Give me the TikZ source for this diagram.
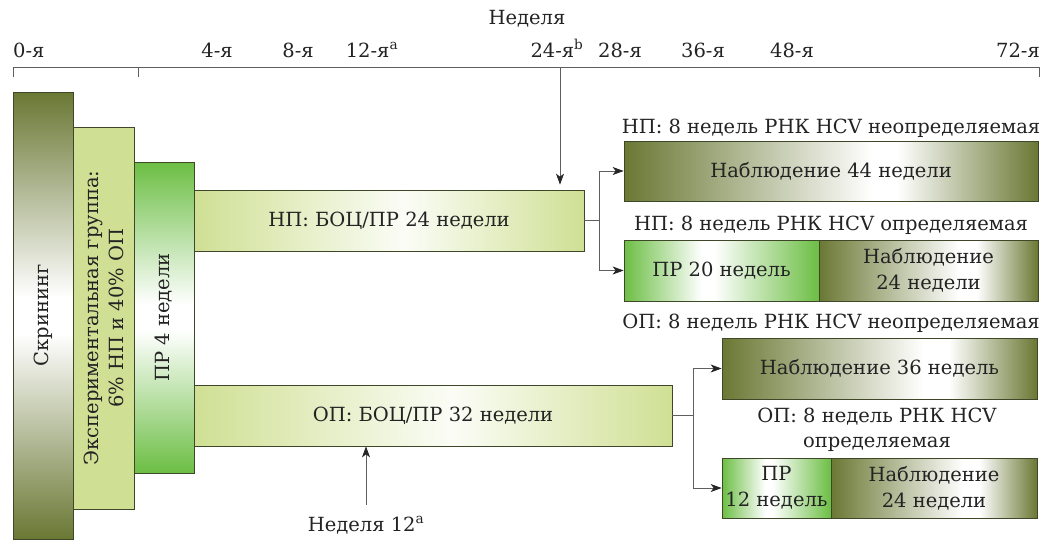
\documentclass[tikz,border=0pt]{standalone}
\usepackage{fontspec}
\setmainfont{DejaVu Serif}
\newfontfamily\dserif{DejaVu Serif}
\usetikzlibrary{arrows.meta}

\definecolor{olv}{RGB}{106,120,52}
\definecolor{grn}{RGB}{108,190,68}
\definecolor{lgr}{RGB}{207,224,148}
\definecolor{bdr}{RGB}{62,72,40}
\definecolor{cgray}{RGB}{95,95,95}
\definecolor{txt}{RGB}{35,35,35}

\pgfdeclareverticalshading{scrsh}{100bp}{color(0bp)=(olv); color(25bp)=(olv); color(48bp)=(white); color(52bp)=(white); color(75bp)=(olv); color(100bp)=(olv)}
\pgfdeclareverticalshading{prvsh}{100bp}{color(0bp)=(grn); color(25bp)=(grn); color(48bp)=(white); color(52bp)=(white); color(75bp)=(grn); color(100bp)=(grn)}
\pgfdeclarehorizontalshading{obssh}{100bp}{color(0bp)=(olv); color(25bp)=(olv); color(55bp)=(white); color(58bp)=(white); color(75bp)=(olv); color(100bp)=(olv)}
\pgfdeclarehorizontalshading{obsbsh}{100bp}{color(0bp)=(olv); color(25bp)=(olv); color(57bp)=(white); color(61bp)=(white); color(75bp)=(olv); color(100bp)=(olv)}
\pgfdeclarehorizontalshading{prhsh}{100bp}{color(0bp)=(grn); color(25bp)=(grn); color(45bp)=(white); color(48bp)=(white); color(75bp)=(grn); color(100bp)=(grn)}
\pgfdeclarehorizontalshading{lgrsh}{100bp}{color(0bp)=(lgr); color(25bp)=(lgr); color(52bp)=(lgr!8!white); color(75bp)=(lgr); color(100bp)=(lgr)}

\tikzset{
  box/.style={draw=bdr, line width=0.7pt, inner sep=0pt, align=center, text=txt},
  lbl/.style={text=txt, inner sep=0pt, align=center},
  conn/.style={draw=cgray, line width=0.9pt, -{Stealth[length=11pt,width=8pt,inset=3pt,color=black!85]}},
  elbow/.style={draw=cgray, line width=0.9pt},
  axisline/.style={draw=cgray, line width=0.8pt}
}

\begin{document}
\begin{tikzpicture}[x=1pt,y=-1pt,font=\dserif\fontsize{19.5}{26}\selectfont]
\useasboundingbox (0,0) rectangle (1051,541);

% axis
\coordinate (a0) at (13,67);
\coordinate (a4) at (138,67);
\coordinate (a72) at (1039,67);
\coordinate (t24) at (560,67);
\draw[axisline] (a0) -- (a72);
\draw[axisline] (a0) -- ++(0,10);
\draw[axisline] (a4) -- ++(0,10);
\draw[axisline] (a72) -- ++(0,10);

\node[lbl, anchor=base] (wk) at (527,24) {Неделя};
\node[lbl, anchor=base west] (l0) at (13,57) {0-я};
\node[lbl, anchor=base] (l4) at (217,57) {4-я};
\node[lbl, anchor=base] (l8) at (298,57) {8-я};
\node[lbl, anchor=base] (l12) at (372,57) {12-я\textsuperscript{a}};
\node[lbl, anchor=base] (l24) at (557,57) {24-я\textsuperscript{b}};
\node[lbl, anchor=base] (l28) at (620,57) {28-я};
\node[lbl, anchor=base] (l36) at (703,57) {36-я};
\node[lbl, anchor=base] (l48) at (792,57) {48-я};
\node[lbl, anchor=base east] (l72) at (1040,57) {72-я};

% left stack
\node[box, shade, shading=scrsh, minimum width=60pt, minimum height=447pt] (scr) at (43,315.5) {};
\node[lbl, rotate=90] (scrt) at (scr) {Скрининг};
\node[box, fill=lgr, minimum width=61pt, minimum height=382pt] (exp) at (103.5,318) {};
\node[lbl, rotate=90, font=\dserif\fontsize{19.5}{25}\selectfont] (expt) at (exp) {Экспериментальная группа:\\6\% НП и 40\% ОП};
\node[box, shade, shading=prvsh, minimum width=60pt, minimum height=311pt] (pr4) at (164,317.5) {};
\node[lbl, rotate=90] (pr4t) at (pr4) {ПР 4 недели};

% arms
\node[box, shade, shading=lgrsh, minimum width=390pt, minimum height=61pt] (np) at (389,220.5) {НП: БОЦ/ПР 24 недели};
\node[box, shade, shading=lgrsh, minimum width=478pt, minimum height=61pt] (op) at (433,415.5) {ОП: БОЦ/ПР 32 недели};

% NP outcomes
\node[lbl, anchor=base] (npu) at (831,133) {НП: 8 недель РНК HCV неопределяемая};
\node[box, shade, shading=obssh, minimum width=414pt, minimum height=60pt] (obs44) at (831,171) {Наблюдение 44 недели};
\node[lbl, anchor=base] (npd) at (831,230) {НП: 8 недель РНК HCV определяемая};
\node[box, shade, shading=prhsh, minimum width=195pt, minimum height=61pt] (pr20) at (721.5,270.5) {ПР 20 недель};
\node[box, shade, shading=obsbsh, minimum width=219pt, minimum height=61pt] (obs24a) at (928.5,270.5) {Наблюдение\\24 недели};

% OP outcomes
\node[lbl, anchor=base] (opu) at (831,328) {ОП: 8 недель РНК HCV неопределяемая};
\node[box, shade, shading=obsbsh, minimum width=315pt, minimum height=61pt] (obs36) at (879.5,368.5) {Наблюдение 36 недель};
\node[lbl, font=\dserif\fontsize{19.5}{25}\selectfont] (opd) at (877,430) {ОП: 8 недель РНК HCV\\определяемая};
\node[box, shade, shading=prhsh, minimum width=109pt, minimum height=60pt] (pr12) at (776.5,488) {ПР\\12 недель};
\node[box, shade, shading=obsbsh, minimum width=206pt, minimum height=60pt] (obs24b) at (934,488) {Наблюдение\\24 недели};

% week 12 label
\node[lbl, anchor=base] (w12) at (366,531) {Неделя 12\textsuperscript{a}};

% connectors
\draw[conn, shorten >=5pt] (t24) -- (t24 |- np.north);
\draw[conn, shorten <=11pt] (w12.north) -- (w12.north |- op.south);
\draw[elbow] (np.east) -- ++(15,0) coordinate (npb);
\draw[conn] (npb) |- (obs44.west);
\draw[conn] (npb) |- (pr20.west);
\draw[elbow] (op.east) -- ++(21,0) coordinate (opb);
\draw[conn] (opb) |- (obs36.west);
\draw[conn] (opb) |- (pr12.west);
\end{tikzpicture}
\end{document}
